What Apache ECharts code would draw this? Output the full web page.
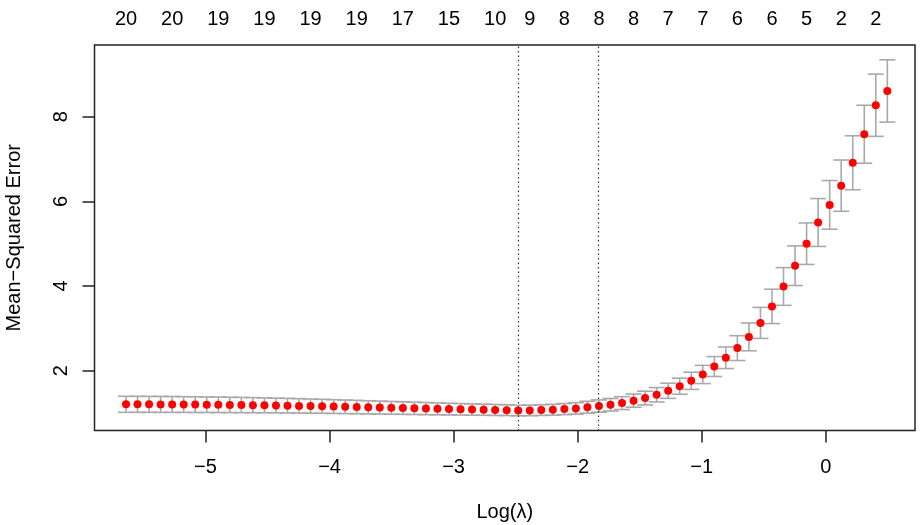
<!DOCTYPE html>
<html>
<head>
<meta charset="utf-8">
<script src="https://cdn.jsdelivr.net/npm/echarts@6/dist/echarts.min.js"></script>
<style>
  html, body { margin: 0; padding: 0; background: #fff; }
  #chart { width: 921px; height: 525px; }
</style>
</head>
<body>
<div id="chart"></div>
<script>
// log(lambda) grid, left to right
const logLambda = [
  -5.641, -5.548, -5.455, -5.362, -5.269, -5.176, -5.083, -4.990, -4.897, -4.804,
  -4.711, -4.618, -4.525, -4.432, -4.339, -4.246, -4.153, -4.060, -3.967, -3.874,
  -3.781, -3.688, -3.595, -3.502, -3.409, -3.316, -3.223, -3.130, -3.037, -2.944,
  -2.851, -2.758, -2.665, -2.572, -2.479, -2.386, -2.293, -2.200, -2.107, -2.014,
  -1.921, -1.828, -1.735, -1.642, -1.549, -1.456, -1.363, -1.270, -1.177, -1.084,
  -0.991, -0.898, -0.805, -0.712, -0.619, -0.526, -0.433, -0.340, -0.247, -0.154,
  -0.061, 0.032, 0.125, 0.218, 0.311, 0.404, 0.497
];
// cross-validated mean squared error
const cvm = [
  1.208, 1.208, 1.207, 1.206, 1.205, 1.203, 1.201, 1.199, 1.197, 1.194,
  1.191, 1.188, 1.184, 1.180, 1.176, 1.171, 1.166, 1.161, 1.155, 1.149,
  1.143, 1.137, 1.131, 1.125, 1.119, 1.113, 1.107, 1.101, 1.095, 1.090,
  1.085, 1.080, 1.075, 1.070, 1.063, 1.064, 1.072, 1.080, 1.095, 1.112,
  1.140, 1.167, 1.198, 1.237, 1.295, 1.356, 1.434, 1.528, 1.635, 1.763,
  1.913, 2.100, 2.307, 2.535, 2.800, 3.130, 3.520, 3.990, 4.480, 5.000,
  5.500, 5.916, 6.370, 6.910, 7.584, 8.268, 8.605
];
// standard error of the cv error
const cvsd = [
  0.189, 0.189, 0.188, 0.188, 0.187, 0.186, 0.185, 0.184, 0.183, 0.181,
  0.180, 0.178, 0.176, 0.174, 0.172, 0.170, 0.168, 0.165, 0.163, 0.160,
  0.158, 0.155, 0.153, 0.150, 0.148, 0.145, 0.143, 0.140, 0.138, 0.136,
  0.134, 0.131, 0.129, 0.127, 0.125, 0.125, 0.126, 0.128, 0.131, 0.135,
  0.140, 0.145, 0.148, 0.152, 0.156, 0.162, 0.170, 0.180, 0.190, 0.203,
  0.215, 0.235, 0.255, 0.293, 0.328, 0.366, 0.405, 0.445, 0.468, 0.490,
  0.565, 0.575, 0.605, 0.637, 0.684, 0.735, 0.735
];
// number of non-zero coefficients shown on top axis
const nzIndex = [0, 4, 8, 12, 16, 20, 24, 28, 32, 35, 38, 41, 44, 47, 50, 53, 56, 59, 62, 65];
const nzCount = [20, 20, 19, 19, 19, 19, 17, 15, 10, 9, 8, 8, 8, 7, 7, 6, 6, 5, 2, 2];
const minIndex = 34;
const seIndex = 41;

const xTicks = [-5, -4, -3, -2, -1, 0];
const yTicks = [2, 4, 6, 8];

const FONT = "'Liberation Sans', Arial, Helvetica, sans-serif";
const FS = 20;

const chart = echarts.init(document.getElementById('chart'));

const barData = logLambda.map((x, i) => [x, cvm[i] - cvsd[i], cvm[i] + cvsd[i]]);
const dotData = logLambda.map((x, i) => [x, cvm[i]]);
const nzPos = nzIndex.map(i => logLambda[i]);

const option = {
  animation: false,
  grid: {
    left: 94.5, right: 6, top: 45, bottom: 94.5,
    outerBoundsMode: 'none',
    containLabel: false,
    show: true, borderColor: '#222', borderWidth: 1.5
  },
  xAxis: [{
    type: 'value',
    min: -5.895, max: 0.72,
    position: 'bottom',
    axisLine: { show: false, onZero: false },
    splitLine: { show: false },
    axisTick: { show: true, inside: false, length: 12, customValues: xTicks,
      lineStyle: { color: '#222', width: 1.5 } },
    axisLabel: {
      customValues: xTicks, margin: 27, fontSize: FS, fontFamily: FONT, color: '#000',
      formatter: v => (v < 0 ? '\u2212' + Math.abs(v) : String(v))
    },
    name: 'Log(\u03bb)',
    nameLocation: 'middle',
    nameGap: 72,
    nameTextStyle: { fontSize: FS, fontFamily: FONT, color: '#000' }
  }, {
    type: 'value',
    min: -5.895, max: 0.72,
    position: 'top',
    axisLine: { show: false, onZero: false },
    splitLine: { show: false },
    axisTick: { show: false },
    axisLabel: {
      customValues: nzPos, margin: 16, fontSize: FS, fontFamily: FONT, color: '#000',
      hideOverlap: false,
      formatter: v => {
        let k = 0;
        nzPos.forEach((p, j) => { if (Math.abs(p - v) < Math.abs(nzPos[k] - v)) k = j; });
        return String(nzCount[k]);
      }
    }
  }],
  yAxis: {
    type: 'value',
    min: 0.59, max: 9.69,
    axisLine: { show: false, onZero: false },
    splitLine: { show: false },
    axisTick: { show: true, length: 12, customValues: yTicks,
      lineStyle: { color: '#222', width: 1.5 } },
    axisLabel: {
      customValues: yTicks, rotate: 90, margin: 23, fontSize: FS, fontFamily: FONT, color: '#000'
    },
    name: 'Mean\u2212Squared Error',
    nameLocation: 'middle',
    nameGap: 70,
    nameTextStyle: { fontSize: FS, fontFamily: FONT, color: '#000' }
  },
  series: [{
    type: 'custom',
    xAxisIndex: 0,
    encode: { x: 0, y: [1, 2] },
    renderItem: (params, api) => {
      const x = api.value(0);
      const lo = api.coord([x, api.value(1)]);
      const hi = api.coord([x, api.value(2)]);
      const w = 8;
      const style = { stroke: '#A9A9A9', lineWidth: 1.6 };
      return {
        type: 'group',
        children: [
          { type: 'line', shape: { x1: hi[0], y1: hi[1], x2: lo[0], y2: lo[1] }, style },
          { type: 'line', shape: { x1: hi[0] - w, y1: hi[1], x2: hi[0] + w, y2: hi[1] }, style },
          { type: 'line', shape: { x1: lo[0] - w, y1: lo[1], x2: lo[0] + w, y2: lo[1] }, style }
        ]
      };
    },
    data: barData,
    z: 2
  }, {
    type: 'scatter',
    xAxisIndex: 0,
    symbol: 'circle',
    symbolSize: 8,
    itemStyle: { color: '#FF0000', opacity: 1 },
    data: dotData,
    z: 3,
    markLine: {
      silent: true,
      symbol: 'none',
      label: { show: false },
      lineStyle: { type: [1.5, 3], color: '#333', width: 1.2 },
      data: [{ xAxis: logLambda[minIndex] }, { xAxis: logLambda[seIndex] }]
    }
  }]
};

chart.setOption(option);
</script>
</body>
</html>
